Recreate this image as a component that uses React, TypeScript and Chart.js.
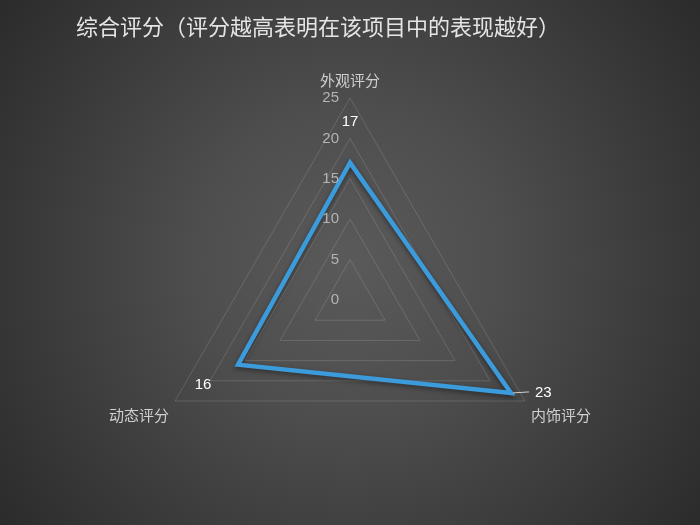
import React, { useEffect, useRef } from 'react';
import { Chart, registerables } from 'chart.js';
Chart.register(...registerables);

const TITLE = '综合评分（评分越高表明在该项目中的表现越好）';
const categories = ['外观评分', '内饰评分', '动态评分'];
const scores = [17, 23, 16];
const scaleMin = 0;
const scaleMax = 25;
const scaleStep = 5;

export default function App() {
  const ref = useRef<HTMLCanvasElement>(null);
  useEffect(() => {
    if (!ref.current) return;
    const decor = {
      id: 'decor',
      beforeDatasetDraw(chart: any) {
        const ctx = chart.ctx;
        ctx.save();
        ctx.shadowColor = 'rgba(0,0,0,0.45)';
        ctx.shadowBlur = 5;
        ctx.shadowOffsetY = 2;
      },
      afterDatasetDraw(chart: any) {
        chart.ctx.restore();
      },
      afterDraw(chart: any) {
        const ctx = chart.ctx;
        const r = chart.scales.r;
        ctx.save();
        // title
        ctx.font = '22px "Noto Sans CJK SC", sans-serif';
        ctx.fillStyle = '#e4e4e4';
        ctx.textAlign = 'left';
        ctx.textBaseline = 'middle';
        ctx.fillText(TITLE, 76, 27);
        // tick labels
        ctx.font = '15px "Liberation Sans", Arial, sans-serif';
        ctx.fillStyle = '#b4b4b4';
        ctx.textAlign = 'right';
        r.ticks.forEach((t: any) => {
          const d = r.getDistanceFromCenterForValue(t.value);
          ctx.fillText(String(t.value), r.xCenter - 11, r.yCenter - d);
        });
        // axis names
        ctx.font = '15px "Noto Sans CJK SC", sans-serif';
        ctx.fillStyle = '#d0d0d0';
        categories.forEach((c, i) => {
          const p = r.getPointPositionForValue(i, scaleMax);
          if (i === 0) {
            ctx.textAlign = 'center';
            ctx.fillText(c, p.x, p.y - 18);
          } else if (i === 1) {
            ctx.textAlign = 'left';
            ctx.fillText(c, p.x + 6, p.y + 14);
          } else {
            ctx.textAlign = 'right';
            ctx.fillText(c, p.x - 6, p.y + 14);
          }
        });
        // value labels
        ctx.font = '15px "Liberation Sans", Arial, sans-serif';
        ctx.fillStyle = '#ffffff';
        scores.forEach((v, i) => {
          if (i === 1) {
            const p = r.getPointPositionForValue(i, v);
            ctx.strokeStyle = '#cfcfcf';
            ctx.lineWidth = 1;
            ctx.beginPath();
            ctx.moveTo(p.x + 2, p.y);
            ctx.lineTo(p.x + 18, p.y - 1);
            ctx.stroke();
            ctx.textAlign = 'left';
            ctx.fillText(String(v), p.x + 24, p.y);
          } else {
            const p = r.getPointPositionForValue(i, v + 5);
            ctx.textAlign = 'center';
            ctx.fillText(String(v), p.x, p.y);
          }
        });
        ctx.restore();
      },
    };
    const chart = new Chart(ref.current, {
      type: 'radar',
      data: {
        labels: categories,
        datasets: [
          {
            label: '综合评分',
            data: scores,
            borderColor: '#3b9bdb',
            borderWidth: 4.5,
            borderJoinStyle: 'miter',
            fill: false,
            pointRadius: 0,
            pointHoverRadius: 0,
          },
        ],
      },
      options: {
        responsive: true,
        maintainAspectRatio: false,
        animation: false,
        layout: { padding: { top: 98, bottom: 23, left: 0, right: 0 } },
        plugins: {
          legend: { display: false },
          title: { display: false },
          tooltip: { enabled: false },
        },
        scales: {
          r: {
            min: scaleMin,
            max: scaleMax,
            ticks: { stepSize: scaleStep, display: false },
            grid: { color: 'rgba(255,255,255,0.14)', lineWidth: 1 },
            angleLines: { display: false },
            pointLabels: { display: false },
          },
        },
      },
      plugins: [decor],
    });
    return () => chart.destroy();
  }, []);
  return (
    <div
      style={{
        position: 'fixed',
        left: 0,
        top: 0,
        width: 700,
        height: 525,
        background: 'radial-gradient(circle farthest-corner at 50% 50%, #5a5a5a 0%, #4e4e4e 35%, #2b2b2b 100%)',
      }}
    >
      <canvas ref={ref} />
    </div>
  );
}
